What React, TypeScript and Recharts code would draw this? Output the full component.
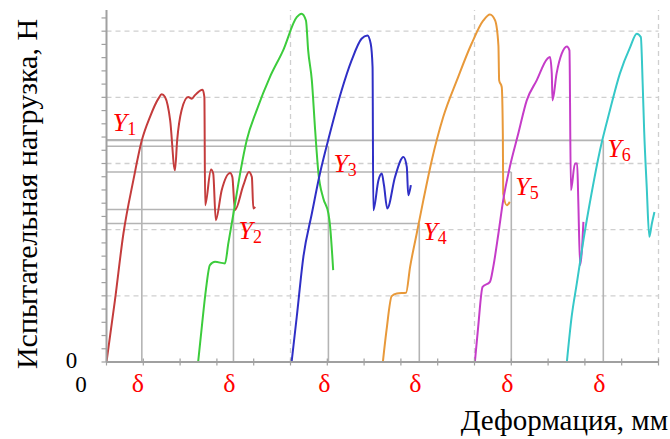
import React from "react";
import { LineChart, Line, XAxis, YAxis, ReferenceLine, ReferenceDot } from "recharts";

// ---- data (x: deformation, y: load) ----
const redCurve = [
  { x: 0.0, y: 0 }, { x: 0.23, y: 4.68 }, { x: 0.46, y: 9.71 }, { x: 0.73, y: 13.74 },
  { x: 0.96, y: 16.75 }, { x: 1.18, y: 18.51 }, { x: 1.41, y: 19.9 }, { x: 1.5, y: 20.23 },
  { x: 1.59, y: 20.02 }, { x: 1.73, y: 18.26 }, { x: 1.86, y: 14.49 }, { x: 1.92, y: 16.75 },
  { x: 2.04, y: 19.02 }, { x: 2.22, y: 20.02 }, { x: 2.32, y: 19.9 }, { x: 2.4, y: 20.15 },
  { x: 2.61, y: 20.58 }, { x: 2.66, y: 20.02 }, { x: 2.68, y: 11.85 }, { x: 2.84, y: 14.54 },
  { x: 2.9, y: 14.24 }, { x: 2.97, y: 10.72 }, { x: 3.13, y: 12.98 }, { x: 3.36, y: 14.29 },
  { x: 3.42, y: 13.98 }, { x: 3.49, y: 11.47 }, { x: 3.72, y: 13.36 }, { x: 3.87, y: 14.36 },
  { x: 3.95, y: 13.98 }, { x: 3.99, y: 11.6 }, { x: 4.04, y: 11.72 },
];
const greenCurve = [
  { x: 2.49, y: 0 }, { x: 2.59, y: 2.66 }, { x: 2.7, y: 5.43 }, { x: 2.81, y: 7.32 },
  { x: 2.95, y: 7.57 }, { x: 3.22, y: 7.45 }, { x: 3.31, y: 8.96 }, { x: 3.45, y: 11.22 },
  { x: 3.63, y: 14.24 }, { x: 3.81, y: 16.75 }, { x: 4.08, y: 19.02 }, { x: 4.44, y: 21.53 },
  { x: 4.8, y: 23.55 }, { x: 5.17, y: 26.06 }, { x: 5.3, y: 26.32 }, { x: 5.42, y: 25.81 },
  { x: 5.48, y: 23.55 }, { x: 5.58, y: 21.28 }, { x: 5.67, y: 17.51 }, { x: 5.76, y: 14.24 },
  { x: 5.89, y: 12.38 }, { x: 6.03, y: 11.22 }, { x: 6.07, y: 10.42 }, { x: 6.16, y: 6.94 },
];
const blueCurve = [
  { x: 5.03, y: 0 }, { x: 5.17, y: 3.42 }, { x: 5.35, y: 7.95 }, { x: 5.58, y: 11.22 },
  { x: 5.8, y: 14.24 }, { x: 6.07, y: 17.26 }, { x: 6.39, y: 20.53 }, { x: 6.66, y: 22.79 },
  { x: 6.93, y: 24.43 }, { x: 7.09, y: 24.68 }, { x: 7.18, y: 24.05 }, { x: 7.23, y: 22.29 },
  { x: 7.25, y: 11.47 }, { x: 7.39, y: 13.74 }, { x: 7.48, y: 14.24 }, { x: 7.54, y: 13.36 },
  { x: 7.63, y: 11.6 }, { x: 7.84, y: 13.98 }, { x: 8.07, y: 15.49 }, { x: 8.16, y: 14.74 },
  { x: 8.2, y: 12.6 }, { x: 8.27, y: 13.36 },
];
const orangeCurve = [
  { x: 7.51, y: 0 }, { x: 7.61, y: 2.42 }, { x: 7.75, y: 4.98 }, { x: 7.89, y: 5.18 },
  { x: 8.14, y: 5.23 }, { x: 8.25, y: 7.19 }, { x: 8.43, y: 9.71 }, { x: 8.61, y: 12.23 },
  { x: 8.84, y: 15.25 }, { x: 9.15, y: 18.51 }, { x: 9.52, y: 21.28 }, { x: 9.92, y: 24.05 },
  { x: 10.24, y: 25.81 }, { x: 10.42, y: 26.26 }, { x: 10.56, y: 25.81 }, { x: 10.65, y: 23.92 },
  { x: 10.67, y: 21.28 }, { x: 10.74, y: 20.78 }, { x: 10.77, y: 17.26 }, { x: 10.78, y: 12.73 },
  { x: 10.88, y: 11.85 }, { x: 10.96, y: 12.1 },
];
const magentaCurve = [
  { x: 10.01, y: 0 }, { x: 10.1, y: 2.66 }, { x: 10.22, y: 5.68 }, { x: 10.42, y: 6.06 },
  { x: 10.51, y: 7.19 }, { x: 10.65, y: 9.71 }, { x: 10.78, y: 12.23 }, { x: 10.96, y: 14.74 },
  { x: 11.19, y: 17.26 }, { x: 11.42, y: 19.77 }, { x: 11.69, y: 21.28 }, { x: 11.98, y: 22.92 },
  { x: 12.05, y: 23.04 }, { x: 12.1, y: 21.79 }, { x: 12.12, y: 19.77 }, { x: 12.23, y: 21.79 },
  { x: 12.37, y: 23.3 }, { x: 12.51, y: 23.85 }, { x: 12.58, y: 23.55 }, { x: 12.62, y: 12.98 },
  { x: 12.73, y: 15.0 }, { x: 12.79, y: 15.0 }, { x: 12.82, y: 12.23 }, { x: 12.87, y: 7.32 },
  { x: 12.96, y: 10.59 },
];
const cyanCurve = [
  { x: 12.51, y: 0 }, { x: 12.64, y: 3.42 }, { x: 12.78, y: 5.94 }, { x: 12.96, y: 9.21 },
  { x: 13.18, y: 12.73 }, { x: 13.41, y: 16.0 }, { x: 13.68, y: 19.02 }, { x: 13.95, y: 21.79 },
  { x: 14.23, y: 23.8 }, { x: 14.41, y: 24.81 }, { x: 14.52, y: 24.55 }, { x: 14.57, y: 21.03 },
  { x: 14.61, y: 17.51 }, { x: 14.68, y: 13.23 }, { x: 14.75, y: 9.46 }, { x: 14.82, y: 10.47 },
  { x: 14.89, y: 11.34 },
];

const deltas = [0.96, 3.45, 6.03, 8.5, 11.0, 13.5];
const yLevels = [16.8, 11.52, 16.3, 10.47, 14.36, 16.75];
const yNames = ["1", "2", "3", "4", "5", "6"];
const xTicks = Array.from({ length: 16 }, (_, i) => i);
const yTicks = Array.from({ length: 27 }, (_, i) => i);
const xGrid = [5, 10, 15];
const yGrid = [5, 10, 15, 20, 25];
const deltaLabel = "δ";
const yTitle = "Испытательная нагрузка, Н";
const xTitle = "Деформация, мм";

const curves = [
  { data: redCurve, color: "#c43c3c" },
  { data: greenCurve, color: "#3ccc3c" },
  { data: blueCurve, color: "#2f2fc6" },
  { data: orangeCurve, color: "#e8993a" },
  { data: magentaCurve, color: "#c53cc8" },
  { data: cyanCurve, color: "#36c8c8" },
];

// label offsets (px) relative to the (δ, Y) point
const labelOffsets = [
  { dx: -29, dy: -9 },
  { dx: 5, dy: 29 },
  { dx: 5, dy: 26 },
  { dx: 4, dy: 17 },
  { dx: 4, dy: 23 },
  { dx: 4, dy: 17 },
];

const SERIF = "'Liberation Serif', 'DejaVu Serif', serif";
const refGray = "#b4b4b4";
const gridGray = "#cfcfcf";
const axisGray = "#a0a0a0";

// plot frame (px)
const PLOT_LEFT = 106.5;
const PLOT_RIGHT = 658.5;
const PLOT_BOTTOM = 362;

const EmptyTick = () => <g />;

export default function App() {
  return (
    <div style={{ position: "absolute", left: 0, top: 0, width: 670, height: 439, background: "#fff" }}>
      <LineChart
        width={670}
        height={439}
        margin={{ top: 10, right: 670 - PLOT_RIGHT, bottom: 439 - PLOT_BOTTOM, left: PLOT_LEFT - 30 }}
      >
        <XAxis
          type="number"
          dataKey="x"
          domain={[0, 15]}
          ticks={xTicks}
          height={30}
          hide
          allowDataOverflow
        />
        <YAxis
          type="number"
          domain={[0, 26.6]}
          ticks={yTicks}
          interval={0}
          width={30}
          tick={<EmptyTick />}
          tickSize={5}
          axisLine={{ stroke: axisGray, strokeWidth: 2 }}
          tickLine={{ stroke: axisGray, strokeWidth: 1.2 }}
          allowDataOverflow
        />
        <YAxis
          yAxisId="my"
          type="number"
          domain={[0, 26.6]}
          ticks={yTicks}
          interval={0}
          width={30}
          mirror
          tick={<EmptyTick />}
          tickSize={5}
          axisLine={false}
          tickLine={{ stroke: axisGray, strokeWidth: 1.2 }}
        />

        {yGrid.map((v) => (
          <ReferenceLine key={"hy" + v} y={v} stroke={gridGray} strokeDasharray="5 4" strokeWidth={1.3} />
        ))}
        {xGrid.map((v) => (
          <ReferenceLine key={"vx" + v} x={v} stroke={gridGray} strokeDasharray="5 4" strokeWidth={1.3} />
        ))}

        {deltas.map((d, i) => (
          <ReferenceLine
            key={"h" + i}
            segment={[{ x: 0, y: yLevels[i] }, { x: d, y: yLevels[i] }]}
            stroke={refGray}
            strokeWidth={1.6}
            ifOverflow="visible"
          />
        ))}
        {deltas.map((d, i) => (
          <ReferenceLine
            key={"v" + i}
            segment={[{ x: d, y: 0 }, { x: d, y: yLevels[i] }]}
            stroke={refGray}
            strokeWidth={1.6}
            ifOverflow="visible"
          />
        ))}

        {curves.map((c, i) => (
          <Line
            key={"c" + i}
            data={c.data}
            dataKey="y"
            type="monotoneX"
            stroke={c.color}
            strokeWidth={2}
            dot={false}
            activeDot={false}
            isAnimationActive={false}
          />
        ))}

        {/* x-axis tick marks, placed through the chart's scales */}
        {xTicks.map((t) => (
          <ReferenceDot
            key={"xt" + t}
            x={t}
            y={0}
            r={0}
            ifOverflow="visible"
            shape={(p: any) => (
              <line x1={p.cx} x2={p.cx} y1={p.cy - 3.5} y2={p.cy + 3.5} stroke={axisGray} strokeWidth={1.2} />
            )}
          />
        ))}

        {deltas.map((d, i) => (
          <ReferenceDot
            key={"l" + i}
            x={d}
            y={yLevels[i]}
            r={0}
            ifOverflow="visible"
            shape={(p: any) => (
              <text
                x={p.cx + labelOffsets[i].dx}
                y={p.cy + labelOffsets[i].dy}
                fill="#ff0000"
                fontFamily={SERIF}
                fontSize={26}
              >
                <tspan fontStyle="italic">Y</tspan>
                <tspan fontSize={18} dy={4}>{yNames[i]}</tspan>
              </text>
            )}
          />
        ))}
        {deltas.map((d, i) => (
          <ReferenceDot
            key={"d" + i}
            x={d}
            y={0}
            r={0}
            ifOverflow="visible"
            shape={(p: any) => (
              <text
                x={p.cx - 4}
                y={p.cy + 30}
                textAnchor="middle"
                fill="#ff0000"
                fontFamily={SERIF}
                fontSize={26}
              >
                {deltaLabel}
              </text>
            )}
          />
        ))}
      </LineChart>
      <svg
        width={670}
        height={439}
        style={{ position: "absolute", left: 0, top: 0, pointerEvents: "none" }}
      >
        {/* x axis line along the bottom of the plot frame */}
        <line
          x1={PLOT_LEFT}
          x2={PLOT_RIGHT}
          y1={PLOT_BOTTOM}
          y2={PLOT_BOTTOM}
          stroke={axisGray}
          strokeWidth={2}
        />
        <text
          x={37}
          y={194}
          transform="rotate(-90 37 194)"
          textAnchor="middle"
          fontFamily={SERIF}
          fontSize={30}
          fill="#000"
        >
          {yTitle}
        </text>
        <text x={668} y={430} textAnchor="end" fontFamily={SERIF} fontSize={29} fill="#000">
          {xTitle}
        </text>
        <text x={81} y={392} textAnchor="middle" fontFamily={SERIF} fontSize={23} fill="#000">
          0
        </text>
        <text x={71.5} y={368} textAnchor="middle" fontFamily={SERIF} fontSize={23} fill="#000">
          0
        </text>
      </svg>
    </div>
  );
}
